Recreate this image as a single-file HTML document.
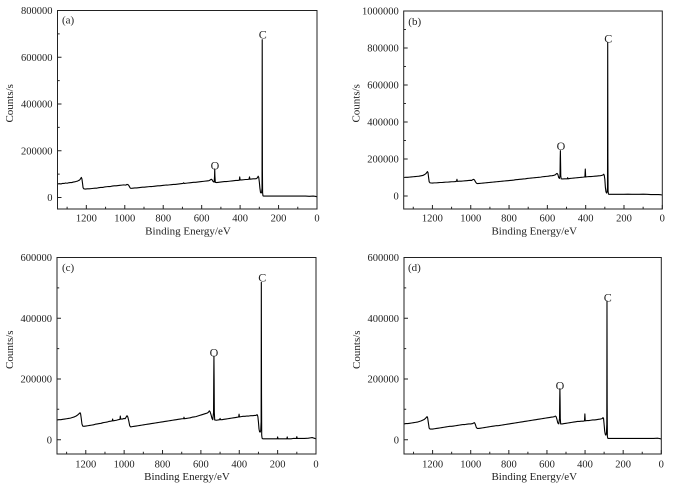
<!DOCTYPE html>
<html><head><meta charset="utf-8"><style>
html,body{margin:0;padding:0;background:#fff;}
svg{display:block;}
text{font-family:"Liberation Serif",serif;fill:#222;}
.t{font-size:10.5px;}
.ti{font-size:11px;}
.pl{font-size:11px;}
.pk{font-size:12px;}
.fr{fill:none;stroke:#222;stroke-width:1;}
.tk{fill:none;stroke:#222;stroke-width:1;}
.sp{fill:none;stroke:#000;stroke-width:1.1;stroke-linejoin:round;vector-effect:non-scaling-stroke;}
</style></head><body>
<svg width="692" height="486" viewBox="0 0 692 486" xmlns="http://www.w3.org/2000/svg">
<rect width="692" height="486" fill="#fff"/>

<!-- ===== Panel (a) ===== -->
<g transform="matrix(-0.19222 0 0 -0.23375 317 197.5)">
<polyline class="sp" points="1350,58 1340,59 1332,58 1325,60 1316,60 1308,62 1300,61 1292,63 1284,64 1276,64 1268,66 1260,67 1252,69 1246,70 1240,73 1236,74 1232,78 1228,83 1226,86 1223,80 1220,62 1217,42 1213,37 1205,36 1195,37 1185,37 1175,38 1165,39 1155,40 1145,40 1135,42 1125,43 1115,43 1105,45 1095,46 1085,47 1075,47 1065,49 1055,50 1045,50 1035,51 1025,52 1015,53 1005,54 995,53 988,56 983,55 978,50 973,42 968,39 958,40 948,41 938,41 928,42 918,43 908,44 898,44 888,45 878,46 868,47 858,47 848,48 838,49 828,50 818,50 808,51 798,52 788,53 778,53 768,54 758,55 748,56 738,56 728,57 718,58 708,59 698,60 694,63 691,60 682,61 672,62 662,63 652,64 642,65 632,65 622,66 612,67 602,68 592,69 582,70 572,71 562,72 556,75 550,78 546,76 542,70 538,67 535,66 533,90 532,122 531,90 529,65 522,64 512,65 502,66 492,67 482,68 472,68 462,69 452,70 442,71 432,72 422,73 412,73 404,74 402,88 400,75 392,75 382,76 372,77 362,77 354,78 351,88 349,78 342,79 332,80 322,80 314,81 309,86 306,91 303,86 300,66 297,40 294,22 291,19 288,22 286,40 285,675 284,120 283,20 281,7 277,6 260,6 240,6 220,6 200,6 180,6 160,6 140,6 120,6 100,6 80,6 60,6 40,5 20,6 10,5 4,4 0,3"/>
</g>
<rect class="fr" x="57.5" y="10.5" width="259.5" height="198.5"/>
<path class="tk" d="M317 209v-4M278.56 209v-4M240.11 209v-4M201.67 209v-4M163.22 209v-4M124.78 209v-4M86.33 209v-4M297.78 209v-2.2M259.33 209v-2.2M220.89 209v-2.2M182.44 209v-2.2M144 209v-2.2M105.56 209v-2.2M67.11 209v-2.2M57.5 197.5h4M57.5 150.75h4M57.5 104h4M57.5 57.25h4M57.5 10.5h4M57.5 174.1h2.2M57.5 127.4h2.2M57.5 80.6h2.2M57.5 33.9h2.2"/>
<g class="t" text-anchor="end">
<text x="52.5" y="14.2">800000</text><text x="52.5" y="61">600000</text><text x="52.5" y="107.7">400000</text><text x="52.5" y="154.5">200000</text><text x="52.5" y="201.2">0</text>
</g>
<g class="t" text-anchor="middle">
<text x="317" y="221.5">0</text><text x="278.56" y="221.5">200</text><text x="240.11" y="221.5">400</text><text x="201.67" y="221.5">600</text><text x="163.22" y="221.5">800</text><text x="124.78" y="221.5">1000</text><text x="86.33" y="221.5">1200</text>
</g>
<text class="ti" x="188" y="234.5" text-anchor="middle">Binding Energy/eV</text>
<text class="ti" transform="translate(13,103.3) rotate(-90)" text-anchor="middle">Counts/s</text>
<text class="pl" x="62" y="23.5">(a)</text>
<text class="pk" x="262.7" y="38.3" text-anchor="middle">C</text>
<text class="pk" x="215" y="169.3" text-anchor="middle">O</text>

<!-- ===== Panel (b) ===== -->
<g transform="matrix(-0.19156 0 0 -0.185 662.3 196)">
<polyline class="sp" points="1350,100 1340,101 1330,101 1320,102 1310,103 1300,104 1290,105 1280,106 1270,107 1260,109 1250,111 1243,115 1238,118 1233,122 1229,128 1226,132 1223,126 1220,100 1217,77 1212,71 1200,70 1190,71 1180,71 1170,72 1160,73 1150,73 1140,74 1130,75 1120,75 1110,76 1100,77 1090,77 1080,78 1074,80 1072,90 1070,79 1060,80 1050,80 1040,81 1030,82 1020,83 1010,84 1000,85 995,84 990,88 985,90 980,86 975,76 970,69 965,67 955,68 945,69 935,70 925,71 915,72 905,73 895,74 885,75 875,76 865,77 855,78 845,79 835,80 825,81 815,82 805,83 795,84 785,85 775,86 765,88 755,89 745,90 735,91 725,92 715,93 705,95 695,96 685,97 675,98 665,99 655,100 645,101 635,102 625,104 615,105 605,106 595,107 585,109 575,110 565,112 558,115 553,120 549,122 545,116 541,100 537,95 534,110 533,200 532,245 531,180 530,110 528,93 520,92 510,93 500,93 496,93 494,99 492,93 482,95 472,96 462,97 452,98 442,99 432,100 422,101 412,102 404,103 402,146 400,103 392,104 382,105 372,105 362,106 352,107 342,108 332,109 322,110 314,112 309,114 306,118 303,112 300,90 297,45 294,22 291,16 288,22 286,50 285,830 284,200 283,25 281,10 277,9 260,9 240,9 220,9 200,9 180,10 160,9 140,9 120,9 100,10 80,9 60,8 40,8 20,8 10,7 4,6 0,5"/>
</g>
<rect class="fr" x="403.7" y="11" width="258.6" height="198"/>
<path class="tk" d="M662.3 209v-4M623.99 209v-4M585.68 209v-4M547.36 209v-4M509.05 209v-4M470.74 209v-4M432.43 209v-4M643.14 209v-2.2M604.83 209v-2.2M566.52 209v-2.2M528.21 209v-2.2M489.9 209v-2.2M451.58 209v-2.2M413.27 209v-2.2M403.7 196h4M403.7 159h4M403.7 122h4M403.7 85h4M403.7 48h4M403.7 11h4M403.7 177.5h2.2M403.7 140.5h2.2M403.7 103.5h2.2M403.7 66.5h2.2M403.7 29.5h2.2"/>
<g class="t" text-anchor="end">
<text x="398.7" y="14.7">1000000</text><text x="398.7" y="51.7">800000</text><text x="398.7" y="88.7">600000</text><text x="398.7" y="125.7">400000</text><text x="398.7" y="162.7">200000</text><text x="398.7" y="199.7">0</text>
</g>
<g class="t" text-anchor="middle">
<text x="662.3" y="221.5">0</text><text x="623.99" y="221.5">200</text><text x="585.68" y="221.5">400</text><text x="547.36" y="221.5">600</text><text x="509.05" y="221.5">800</text><text x="470.74" y="221.5">1000</text><text x="432.43" y="221.5">1200</text>
</g>
<text class="ti" x="534.3" y="234.5" text-anchor="middle">Binding Energy/eV</text>
<text class="ti" transform="translate(359.5,103.3) rotate(-90)" text-anchor="middle">Counts/s</text>
<text class="pl" x="408.3" y="25">(b)</text>
<text class="pk" x="608.3" y="42.3" text-anchor="middle">C</text>
<text class="pk" x="561" y="150" text-anchor="middle">O</text>

<!-- ===== Panel (c) ===== -->
<g transform="matrix(-0.19185 0 0 -0.30367 316 439.7)">
<polyline class="sp" points="1350,65 1340,66 1330,66 1320,67 1310,68 1300,69 1290,70 1280,71 1270,73 1260,75 1250,78 1243,81 1238,84 1234,86 1230,89 1227,85 1224,72 1220,52 1216,45 1210,44 1200,45 1190,46 1180,47 1170,48 1160,49 1150,51 1140,52 1130,53 1120,54 1110,56 1100,57 1090,58 1080,60 1070,61 1062,62 1060,68 1058,62 1050,63 1040,64 1030,66 1022,67 1020,78 1018,68 1010,68 1000,70 995,69 990,74 985,79 981,75 976,62 971,46 966,42 958,43 948,44 938,45 928,46 918,47 908,48 898,49 888,50 878,51 868,52 858,53 848,54 838,55 828,56 818,57 808,58 798,59 788,60 778,61 768,62 758,63 748,64 738,65 728,66 718,67 708,68 698,69 690,69 688,74 686,69 676,70 666,71 656,72 646,74 636,75 626,76 616,78 606,80 596,82 586,84 576,86 566,88 560,91 556,95 552,92 547,82 542,70 538,66 534,90 533,200 532,275 531,200 530,90 528,65 520,64 510,65 502,66 500,70 498,66 490,66 480,67 470,68 460,69 450,70 440,71 430,72 420,73 410,74 403,75 401,84 399,75 390,76 380,77 370,77 360,78 350,78 340,79 330,79 320,80 313,80 309,82 306,82 303,76 300,58 297,35 294,26 291,25 288,30 286,60 285,518 284,150 283,15 281,5 277,3 260,3 240,3 220,3 202,3 200,9 198,3 180,3 160,3 152,3 150,9 148,3 130,3 120,4 102,4 100,10 98,4 80,4 60,4 40,5 30,6 20,7 15,6 10,5 5,4 0,3"/>
</g>
<rect class="fr" x="57" y="257.5" width="259" height="196.5"/>
<path class="tk" d="M316 454v-4M277.63 454v-4M239.26 454v-4M200.89 454v-4M162.52 454v-4M124.15 454v-4M85.78 454v-4M296.82 454v-2.2M258.45 454v-2.2M220.08 454v-2.2M181.71 454v-2.2M143.34 454v-2.2M104.97 454v-2.2M66.6 454v-2.2M57 439.7h4M57 379h4M57 318.2h4M57 257.5h4M57 409.3h2.2M57 348.6h2.2M57 287.9h2.2"/>
<g class="t" text-anchor="end">
<text x="52" y="261.2">600000</text><text x="52" y="321.9">400000</text><text x="52" y="382.7">200000</text><text x="52" y="443.4">0</text>
</g>
<g class="t" text-anchor="middle">
<text x="316" y="467.5">0</text><text x="277.63" y="467.5">200</text><text x="239.26" y="467.5">400</text><text x="200.89" y="467.5">600</text><text x="162.52" y="467.5">800</text><text x="124.15" y="467.5">1000</text><text x="85.78" y="467.5">1200</text>
</g>
<text class="ti" x="187" y="480" text-anchor="middle">Binding Energy/eV</text>
<text class="ti" transform="translate(13,349.7) rotate(-90)" text-anchor="middle">Counts/s</text>
<text class="pl" x="62" y="271">(c)</text>
<text class="pk" x="262.3" y="281.6" text-anchor="middle">C</text>
<text class="pk" x="214" y="356.3" text-anchor="middle">O</text>

<!-- ===== Panel (d) ===== -->
<g transform="matrix(-0.19059 0 0 -0.30367 661.3 439.7)">
<polyline class="sp" points="1350,52 1340,53 1330,53 1320,54 1310,55 1300,56 1290,57 1280,58 1270,60 1260,62 1250,65 1243,67 1238,70 1233,73 1229,76 1226,72 1222,55 1218,38 1213,35 1200,35 1190,36 1180,37 1170,38 1160,39 1150,40 1140,41 1130,42 1120,43 1110,44 1100,44 1090,45 1080,46 1070,47 1060,48 1050,49 1040,50 1030,50 1020,51 1010,52 1000,52 990,53 985,55 980,56 976,51 971,41 966,37 958,37 948,38 938,39 928,40 918,41 908,42 898,43 888,44 878,45 868,46 858,46 848,47 838,48 828,49 818,50 808,51 798,52 788,53 778,54 768,55 758,56 748,57 738,58 728,59 718,60 708,61 698,62 688,63 678,64 668,65 658,66 648,67 638,68 628,69 618,70 608,71 598,72 588,73 578,74 568,75 560,76 556,78 552,76 548,68 543,55 538,52 534,70 533,130 532,168 531,130 530,70 528,52 520,52 510,53 500,54 490,55 480,56 470,57 460,58 450,59 440,60 430,60 420,61 410,61 403,62 401,85 399,62 390,63 380,63 370,64 360,65 350,65 340,66 330,67 320,68 313,69 309,70 306,73 303,70 300,50 297,28 294,18 291,15 288,20 286,50 285,456 284,120 283,12 281,5 277,4 260,4 240,4 220,4 200,4 180,4 160,4 140,4 120,4 100,4 80,4 60,4 40,4 20,5 10,4 4,3 0,2"/>
</g>
<rect class="fr" x="404" y="257.5" width="257.3" height="196.5"/>
<path class="tk" d="M661.3 454v-4M623.18 454v-4M585.06 454v-4M546.95 454v-4M508.83 454v-4M470.71 454v-4M432.59 454v-4M642.24 454v-2.2M604.12 454v-2.2M566 454v-2.2M527.89 454v-2.2M489.77 454v-2.2M451.65 454v-2.2M413.53 454v-2.2M404 439.7h4M404 379h4M404 318.2h4M404 257.5h4M404 409.3h2.2M404 348.6h2.2M404 287.9h2.2"/>
<g class="t" text-anchor="end">
<text x="399" y="261.2">600000</text><text x="399" y="321.9">400000</text><text x="399" y="382.7">200000</text><text x="399" y="443.4">0</text>
</g>
<g class="t" text-anchor="middle">
<text x="661.3" y="467.5">0</text><text x="623.18" y="467.5">200</text><text x="585.06" y="467.5">400</text><text x="546.95" y="467.5">600</text><text x="508.83" y="467.5">800</text><text x="470.71" y="467.5">1000</text><text x="432.59" y="467.5">1200</text>
</g>
<text class="ti" x="534.3" y="480" text-anchor="middle">Binding Energy/eV</text>
<text class="ti" transform="translate(360,349.7) rotate(-90)" text-anchor="middle">Counts/s</text>
<text class="pl" x="408" y="271">(d)</text>
<text class="pk" x="607.7" y="301.6" text-anchor="middle">C</text>
<text class="pk" x="560" y="389.6" text-anchor="middle">O</text>
</svg>
</body></html>
